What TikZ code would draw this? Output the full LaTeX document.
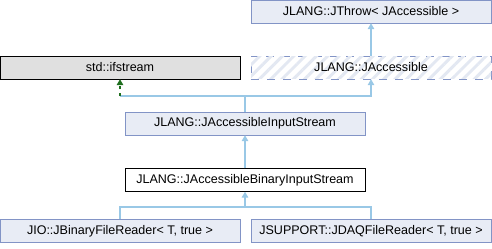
\documentclass[tikz,border=0pt]{standalone}
\usepackage{fontspec}
\setmainfont{Liberation Sans}
\usetikzlibrary{arrows.meta,patterns.meta}
\definecolor{clsfill}{HTML}{E8ECF5}
\definecolor{clsdraw}{HTML}{8294C6}
\definecolor{hatch}{HTML}{E3E8F2}
\definecolor{extfill}{HTML}{E0E0E0}
\definecolor{edgeblue}{HTML}{99C8E6}
\definecolor{edgegreen}{HTML}{1E6E1E}
\begin{document}
\begin{tikzpicture}[x=0.75pt, y=-0.75pt, font=\fontsize{9.4}{11}\selectfont,
  cls/.style={draw=clsdraw, fill=clsfill, minimum width=180pt, minimum height=17.2pt, inner sep=0pt},
  ext/.style={cls, draw=black, fill=extfill},
  cur/.style={cls, draw=black, fill=white},
  undoc/.style={cls, dash pattern=on 6pt off 6pt, fill=white,
    postaction={pattern={Lines[angle=45, distance=6pt, line width=2.2pt]}, pattern color=hatch}},
  pub/.style={draw=edgeblue, line width=0.8pt, -{Triangle[length=4.5pt, width=5pt]}},
  priv/.style={draw=edgegreen, line width=0.8pt, dash pattern=on 2.5pt off 2.5pt,
    -{Triangle[length=4.5pt, width=5pt]}}]
\useasboundingbox (0,0) rectangle (492,248);
% class boxes
\node[cls]   (thr)  at (371,11.5)  {JLANG::JThrow< JAccessible >};
\node[ext]   (ifs)  at (120,67.5)  {std::ifstream};
\node[undoc] (acc)  at (371,67.5)  {JLANG::JAccessible};
\node[cls]   (ais)  at (245,123.5) {JLANG::JAccessibleInputStream};
\node[cur]   (abis) at (245,180)   {JLANG::JAccessibleBinaryInputStream};
\node[cls]   (bfr)  at (120,231)   {JIO::JBinaryFileReader< T, true >};
\node[cls]   (daq)  at (371,231)   {JSUPPORT::JDAQFileReader< T, true >};
% junction points
\coordinate (up)   at (245,96);
\coordinate (down) at (245,207);
% inheritance
\draw[pub] (acc.north) -- (thr.south);
\draw[edgeblue, line width=0.8pt] (ais.north) -- (up) -| (ifs.south |- up);
\draw[pub] (up) -| (acc.south);
\draw[priv] (ifs.south |- up) -- (ifs.south);
\draw[pub] (abis.north) -- (ais.south);
\draw[edgeblue, line width=0.8pt] (bfr.north) |- (down) -| (daq.north);
\draw[pub] (down) -- (abis.south);
\end{tikzpicture}
\end{document}
